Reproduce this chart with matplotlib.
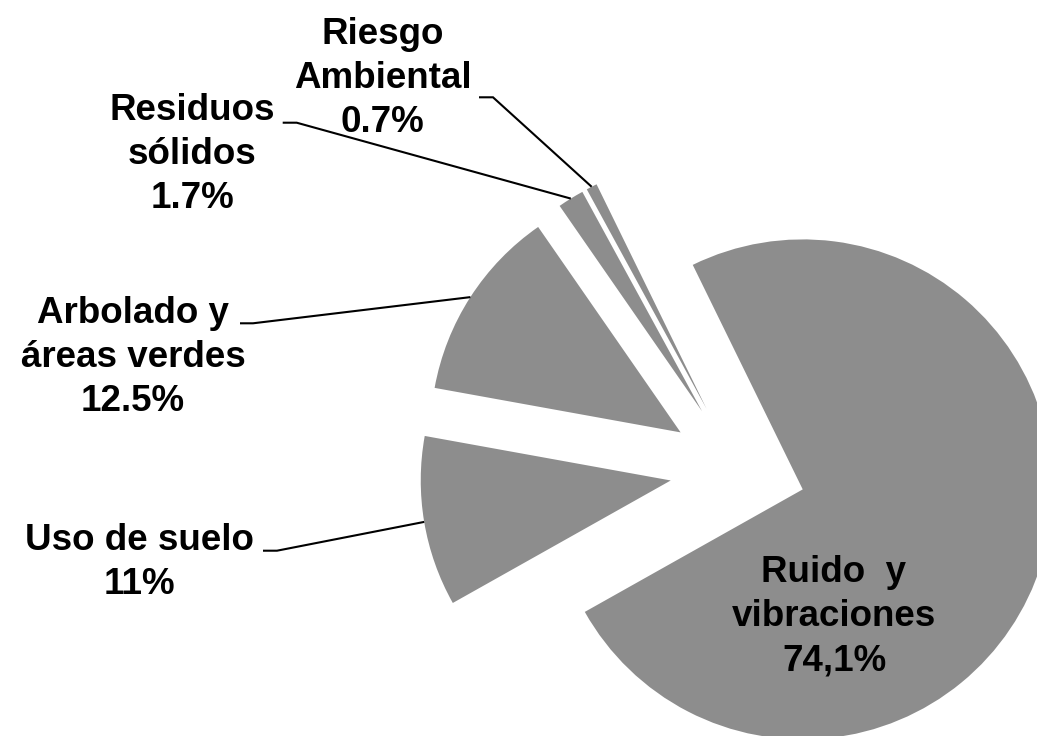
import matplotlib
matplotlib.use("Agg")
import matplotlib.pyplot as plt
import numpy as np

# ---- data ----
categories = ["Ruido  y vibraciones", "Uso de suelo", "Arbolado y áreas verdes",
              "Residuos sólidos", "Riesgo Ambiental"]
values = [74.1, 11.0, 12.5, 1.7, 0.7]
value_labels = ["74,1%", "11%", "12.5%", "1.7%", "0.7%"]
label_lines = [
    ["Ruido  y", "vibraciones"],
    ["Uso de suelo"],
    ["Arbolado y", "áreas verdes"],
    ["Residuos", "sólidos"],
    ["Riesgo", "Ambiental"],
]

# ---- layout (pixels, origin top-left) ----
W, H, DPI = 1037, 736, 100
R_PX = 250.0
CX, CY = 737.8, 469.2
GRAY = "#8d8d8d"
FS = 26.5
LINE_GAP = 44.0

label_pos = [(834, 582), (139, 550), (133, 322.7), (192.5, 120), (382.5, 44.5)]
leader = [None, (263, 277, 550.7), (240, 253, 323.3), (282.7, 296.7, 122.7), (479, 493, 97.3)]


def px(x, y):
    return ((x - CX) / R_PX, (CY - y) / R_PX)


fig = plt.figure(figsize=(W / DPI, H / DPI), dpi=DPI)
ax = fig.add_axes([0, 0, 1, 1])
wedges, _ = ax.pie(values, radius=1.0, center=(0, 0), explode=[0.272] * len(values),
                   startangle=116.1, counterclock=False, colors=[GRAY] * len(values),
                   wedgeprops=dict(linewidth=0, edgecolor="none"))
ax.set_xlim(-CX / R_PX, (W - CX) / R_PX)
ax.set_ylim(-(H - CY) / R_PX, CY / R_PX)
ax.set_aspect("equal")
ax.axis("off")

for i, w in enumerate(wedges):
    lines = label_lines[i] + [value_labels[i]]
    x0, y0 = label_pos[i]
    for k, ln in enumerate(lines):
        tx, ty = px(x0, y0 + k * LINE_GAP)
        ax.text(tx, ty, ln, ha="center", va="baseline", fontsize=FS,
                fontweight="bold", family=["Liberation Sans", "DejaVu Sans"], color="black")
    if leader[i] is not None:
        sx, ex, ly = leader[i]
        tm = np.deg2rad(0.5 * (w.theta1 + w.theta2))
        endx = w.center[0] + w.r * np.cos(tm)
        endy = w.center[1] + w.r * np.sin(tm)
        a = px(sx, ly)
        b = px(ex, ly)
        ax.plot([a[0], b[0], endx], [a[1], b[1], endy], color="black", lw=1.5,
                solid_capstyle="butt", solid_joinstyle="miter")

fig.savefig("out.png", dpi=DPI)
